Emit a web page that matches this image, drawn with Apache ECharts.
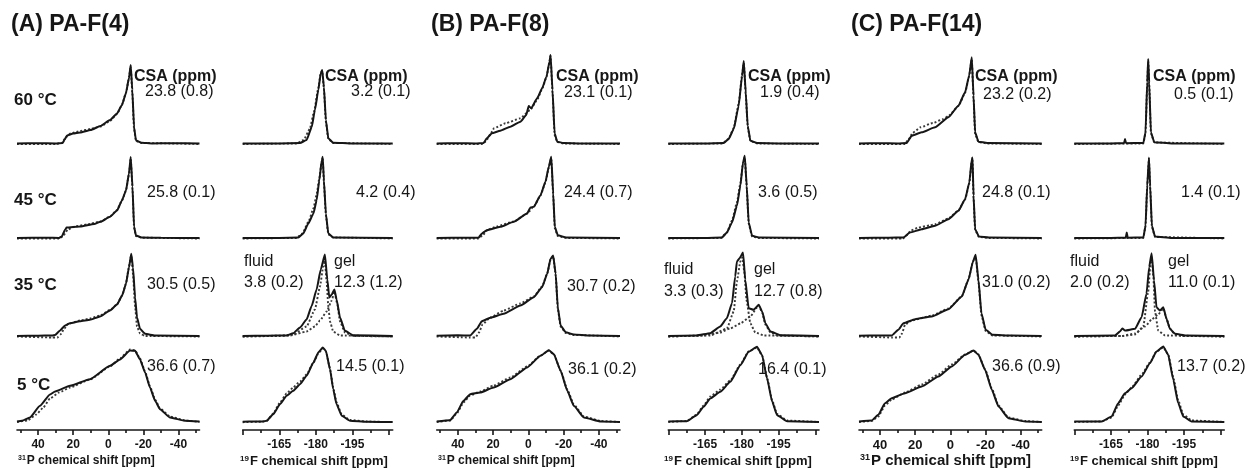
<!DOCTYPE html>
<html>
<head>
<meta charset="utf-8">
<script src="https://cdn.jsdelivr.net/npm/echarts@6/dist/echarts.min.js"></script>
<style>
html, body { margin: 0; padding: 0; background: #fff; }
#main { width: 1255px; height: 470px; }
</style>
</head>
<body>
<div id="main"></div>
<script>
// ---- axis ticks / labels ----
var p31Major = [40, 20, 0, -20, -40];
var p31Minor = [50, 30, 10, -10, -30, -50];
var f19Major = [-150, -165, -180, -195, -210];
var f19Minor = [-157.5, -172.5, -187.5, -202.5];
var f19Labels = [-165, -180, -195];

var panelTitles = ['(A) PA-F(4)', '(B) PA-F(8)', '(C) PA-F(14)'];
var temps = ['60 °C', '45 °C', '35 °C', '5 °C'];
var csaA31 = ['23.8 (0.8)', '25.8 (0.1)', '30.5 (0.5)', '36.6 (0.7)'];
var csaA19 = ['3.2 (0.1)', '4.2 (0.4)', '', '14.5 (0.1)'];
var csaB31 = ['23.1 (0.1)', '24.4 (0.7)', '30.7 (0.2)', '36.1 (0.2)'];
var csaB19 = ['1.9 (0.4)', '3.6 (0.5)', '', '16.4 (0.1)'];
var csaC31 = ['23.2 (0.2)', '24.8 (0.1)', '31.0 (0.2)', '36.6 (0.9)'];
var csaC19 = ['0.5 (0.1)', '1.4 (0.1)', '', '13.7 (0.2)'];
var csaFluid = ['3.8 (0.2)', '3.3 (0.3)', '2.0 (0.2)'];
var csaGel = ['12.3 (1.2)', '12.7 (0.8)', '11.0 (0.1)'];

// ---- spectra: [ppm, intensity] (solid = experiment, d = simulation) ----
// PA-F(4) 31P
var a31_60 = [[52,0.5],[40,0.8],[30,0.6],[26,1],[25,4],[23.5,8.5],[20,10.5],[16,11.5],[10,14],[4.5,18],[-1,24],[-5,30.5],[-7.8,39],[-10.1,51],[-11.8,66],[-12.8,79],[-13.7,54],[-14.7,17],[-15.8,3.5],[-19,1.2],[-25,0.6],[-35,0.8],[-52,0.5]];
var a31_60d = [[52,0],[30,0],[26.5,1],[24,7],[21.5,10.5],[16,13],[10,15],[4.5,17.5],[-1,23],[-5,30],[-7.8,39],[-10.1,51],[-11.8,66],[-12.8,78],[-13.7,52],[-14.7,15],[-15.8,3],[-19,1],[-52,0]];
var a31_45 = [[52,0.5],[35,0.8],[28,0.6],[26.5,2],[24.5,9],[23.7,11],[16,12],[8,14.5],[4.5,16.7],[-1,21.7],[-5,28],[-7.8,38],[-10.1,48],[-11.8,65],[-12.8,81.5],[-13.8,52],[-14.7,12],[-15.8,3],[-19,1],[-30,0.7],[-52,0.5]];
var a31_45d = [[52,0],[28,0],[26,2],[23,9],[19,12],[12,14],[4.5,17],[-1,22],[-5,28.5],[-7.8,38],[-10.1,48],[-11.8,64],[-12.8,80],[-13.8,50],[-14.7,11],[-15.8,2.5],[-19,0.8],[-52,0]];
var a31_35 = [[52,0.5],[40,0.8],[32,1],[30.3,1.5],[27.5,6],[24.6,11],[21.8,13.3],[16.1,15.3],[10.4,16.7],[4.7,20],[-1,26],[-5,32],[-7.9,41],[-10.1,52.7],[-11.8,69],[-13.1,82.7],[-14.1,69],[-15.3,39],[-16.4,19],[-18.1,7.7],[-21,2.7],[-26.7,1],[-52,0.5]];
var a31_35d = [[52,0],[32,-1],[29,-1],[27.2,2],[25,8],[23,12.5],[16.1,16],[10.4,18],[4.7,21],[-1,26.5],[-5,32],[-7.9,41],[-10.1,53],[-11.8,70],[-13.1,81],[-14.1,62],[-15.3,30],[-16.4,10],[-18.1,3],[-21,0.5],[-52,0]];
var a31_5 = [[52,1],[49.2,1.7],[44.6,5],[38.9,16.7],[33.2,28],[30.3,31],[21.8,36.7],[10.4,43.3],[-1,56.7],[-6.7,63],[-12.4,72],[-15.3,71.7],[-18.1,63],[-21,50],[-23.8,35],[-26.7,21.7],[-29.5,13.3],[-35.2,5],[-43.8,1.7],[-52,1]];
var a31_5d = [[52,0.5],[46,2],[41,8],[37,15],[33.2,24],[28,30],[21.8,35],[10.4,43],[-1,56],[-6.7,64],[-12.4,73],[-15.3,72],[-18.1,64],[-21,51],[-23.8,36],[-26.7,23],[-29.5,14],[-35.2,6],[-43.8,2],[-52,0.5]];
// PA-F(4) 19F
var a19_60 = [[-150,0.5],[-165,0.6],[-173.5,1],[-176.2,4],[-178.3,17],[-179.6,34],[-181,54],[-182,70.7],[-182.6,74],[-183.3,57],[-184.1,24],[-185.1,5.7],[-187.1,1.3],[-195,0.5],[-211.5,0.5]];
var a19_60d = [[-150,0],[-172,0.5],[-175,4],[-177.5,15],[-179.3,33],[-181,56],[-182,71],[-182.6,73],[-183.3,55],[-184.1,22],[-185.1,5],[-187.1,1],[-211.5,0]];
var a19_45 = [[-150,0.5],[-165,0.6],[-172.8,1],[-174.8,5],[-176.9,15],[-179,25],[-180.3,38],[-181.4,58],[-182.4,78],[-182.8,81.7],[-183.3,58],[-184.1,25],[-185.1,5],[-187.1,1],[-211.5,0.5]];
var a19_45d = [[-150,0],[-172,0.5],[-174.5,5],[-177,17],[-179,30],[-180.3,44],[-181.4,60],[-182.4,77],[-182.8,80],[-183.3,56],[-184.1,23],[-185.1,4],[-187.1,1],[-211.5,0]];
var a19_35 = [[-150,0.5],[-160,0.8],[-168,1],[-170.7,3.3],[-173.5,9],[-176.2,17],[-178.3,30.7],[-180.3,47],[-182,67],[-183.7,82],[-184.7,57],[-185.5,39],[-186.5,42],[-187.6,47],[-188.5,37],[-189.9,19],[-191.9,5.7],[-195.3,1.3],[-211.5,0.5]];
var a19_35f = [[-150,0],[-165,0.5],[-170.7,2],[-176.2,10],[-179.6,27],[-181.7,50],[-183,70],[-183.7,76],[-184.4,55],[-185.1,30],[-185.8,15],[-187.1,5],[-189.9,1],[-211.5,0]];
var a19_35g = [[-150,0],[-169.4,1],[-176.2,5],[-179.6,10],[-181.7,16],[-184.4,25],[-186.5,36],[-187.6,45],[-188.8,32],[-189.9,15],[-191.9,4],[-195.3,0.5],[-211.5,0]];
var a19_5 = [[-150,0.8],[-155,1],[-158.4,1],[-159.8,1.7],[-162.5,8.3],[-165.3,18.3],[-168,26.7],[-170.7,31.7],[-173.5,38.3],[-176.2,46.7],[-179,60],[-181,70],[-182.8,75],[-184.1,71.7],[-185.8,53.3],[-187.1,33.3],[-188.5,18.3],[-190.6,6.7],[-194,1.7],[-200.8,0.7],[-211.5,0.5]];
var a19_5d = [[-150,0.3],[-158,0.8],[-160,2],[-162.5,9],[-165.3,20],[-168,29],[-170.7,35],[-173.5,41],[-176.2,48],[-179,60],[-181,69],[-182.8,74],[-184.1,71],[-185.8,54],[-187.1,35],[-188.5,20],[-190.6,8],[-194,2.5],[-200.8,1],[-211.5,0.3]];
// PA-F(8) 31P
var b31_60 = [[52,0.5],[40,0.8],[30,0.6],[25.4,1],[23.6,5.7],[20.7,10.7],[15.9,13.3],[10.2,17.3],[4.5,22.3],[1.2,29],[-0.2,38],[-1.6,35.7],[-5,45.7],[-7.8,55.7],[-10.3,67.3],[-12,82.3],[-12.6,89],[-13.7,54],[-14.9,10.7],[-16.4,2.3],[-20,1],[-30,0.6],[-52,0.5]];
var b31_60d = [[52,0],[26,0],[24,3],[21.5,10],[19.5,15.7],[13,20.7],[4.5,25.7],[-1,34],[-5,44],[-7.8,55],[-10.3,67],[-12,82],[-12.6,88],[-13.7,52],[-14.9,9],[-16.4,2],[-20,0.5],[-52,0]];
var b31_45 = [[52,0.5],[35,0.8],[28.3,0.8],[26.4,5],[23.6,8.3],[15.9,11.7],[8.3,16.7],[0.7,25],[-1.2,31],[-3.1,31.7],[-6.9,43.3],[-9.7,56.7],[-11.6,71.7],[-13,81.7],[-14.1,45],[-15,11.7],[-16.7,3.3],[-21.5,1],[-52,0.5]];
var b31_45d = [[52,0],[28.5,0],[26,3],[23,9],[18,12],[8.3,17],[0.7,25],[-3.1,32],[-6.9,43],[-9.7,56],[-11.6,71],[-13,80],[-14.1,43],[-15,10],[-16.7,2.5],[-21.5,0.5],[-52,0]];
var b31_35 = [[52,0.8],[40,1.2],[33,1],[29.2,7.7],[26.4,15.3],[21.6,18.7],[14,22.7],[4.5,31],[-3.1,39.3],[-7.8,49.3],[-10.7,62.7],[-12.6,77.7],[-14.1,81],[-15.5,62.7],[-16.7,29.3],[-18.3,11],[-21.2,4.3],[-25.8,2],[-35,1],[-52,0.5]];
var b31_35d = [[52,0],[33,-1],[30,-1],[28,4],[26,12],[21.6,19],[14,26],[4.5,33],[-3.1,40],[-7.8,50],[-10.7,63],[-12.6,77],[-14.1,80],[-15.5,61],[-16.7,28],[-18.3,10],[-21.2,3.5],[-25.8,1.5],[-52,0]];
var b31_5 = [[52,1],[44.4,2.3],[40.6,10],[36.8,21.7],[33,28.3],[27.3,30],[19.7,35],[10.2,43.3],[0.7,55],[-6.9,66.7],[-11.6,72.3],[-14.5,68.3],[-18.3,51.7],[-22.1,31.7],[-25.8,16.7],[-31.5,5],[-41.1,1],[-52,0.5]];
var b31_5d = [[52,0.5],[44.4,2],[40.6,9],[36.8,20],[33,27],[27.3,31],[19.7,37],[10.2,45],[0.7,56],[-6.9,67],[-11.6,72],[-14.5,68],[-18.3,52],[-22.1,33],[-25.8,18],[-31.5,6],[-41.1,1.5],[-52,0.5]];
// PA-F(8) 19F
var b19_60 = [[-150,0.5],[-165,0.6],[-172.6,1],[-174.6,5],[-176.7,15],[-178.7,38],[-180.1,68],[-180.8,83],[-181.6,51.7],[-182.4,18.3],[-183.5,3.3],[-186.3,1],[-195,0.6],[-211.5,0.5]];
var b19_60d = [[-150,0],[-172,0.5],[-174.6,5],[-176.7,16],[-178.7,40],[-180.1,69],[-180.8,81],[-181.6,50],[-182.4,17],[-183.5,3],[-186.3,0.5],[-211.5,0]];
var b19_45 = [[-150,0.5],[-165,0.6],[-171.9,1],[-173.9,6],[-176,16],[-178,32.7],[-179.4,52.7],[-180.5,76],[-181.2,82.7],[-182,52.7],[-182.8,16],[-184.2,2.7],[-187,1],[-211.5,0.5]];
var b19_45d = [[-150,0],[-171.5,0.5],[-173.9,6],[-176,18],[-178,36],[-179.4,55],[-180.5,76],[-181.2,81],[-182,51],[-182.8,15],[-184.2,2],[-187,0.5],[-211.5,0]];
var b19_35 = [[-150,0.5],[-161.6,1],[-167.1,3.3],[-171.2,10],[-173.9,18.3],[-176,33.3],[-177.3,60],[-178,75],[-179.1,78.3],[-180.5,84],[-181.4,56.7],[-182.8,28.3],[-184.8,26.7],[-186.9,31.7],[-188.3,25],[-189.6,13.3],[-191.7,5],[-195.8,1.3],[-211.5,0.5]];
var b19_35f = [[-150,0],[-167.1,1],[-173.9,8],[-176.7,25],[-178,55],[-179.4,75],[-180.2,79],[-181,65],[-182,35],[-183.5,13],[-185.5,4],[-189,1],[-211.5,0]];
var b19_35g = [[-150,0],[-164.4,1],[-171.2,4],[-175.3,8],[-179.4,13],[-183.5,20],[-186.2,29],[-186.9,31],[-188.3,24],[-189.6,12],[-191.7,4],[-194.4,1],[-211.5,0]];
var b19_5 = [[-150,1],[-157.5,1.3],[-161.6,7.3],[-164.4,15.7],[-167.1,24],[-171.2,30.7],[-175.3,40.7],[-179.4,57.3],[-182.8,70.7],[-186.2,75.7],[-188.3,67.3],[-190.3,44],[-192.4,20.7],[-194.4,7.3],[-198.5,1.3],[-211.5,0.5]];
var b19_5d = [[-150,0.5],[-157.5,1.5],[-161.6,8],[-164.4,17],[-167.1,26],[-171.2,33],[-175.3,42],[-179.4,58],[-182.8,71],[-186.2,75],[-188.3,67],[-190.3,45],[-192.4,22],[-194.4,8.5],[-198.5,2],[-211.5,0.5]];
// PA-F(14) 31P
var c31_60 = [[52,0.5],[40,0.8],[30,0.6],[24.8,1],[22,8.3],[16.3,11.7],[8.7,16.7],[1.1,26.7],[-4.6,38.3],[-8.4,51.7],[-10.7,68.3],[-12.2,86.7],[-13.2,48],[-14.1,11.7],[-16,2.3],[-21,1],[-52,0.5]];
var c31_60d = [[52,0],[26,0],[24,4],[21.5,11],[17,16.7],[10,21],[4,25],[1.1,28],[-4.6,38],[-8.4,51],[-10.7,68],[-12.2,85],[-13.2,46],[-14.1,10],[-16,2],[-21,0.5],[-52,0]];
var c31_45 = [[52,0.5],[35,0.8],[26.7,1],[23,6],[16.3,9.3],[8.7,12.7],[1.1,19.3],[-4.6,27.7],[-8.4,39.3],[-10.8,56],[-12.2,79.3],[-12.6,81],[-13.2,42.7],[-14.1,9.3],[-16.3,2],[-22,1],[-52,0.5]];
var c31_45d = [[52,0],[27,0],[25,3],[22.5,8],[18,11],[12,13],[8.7,14.3],[1.1,20],[-4.6,28],[-8.4,39],[-10.8,55],[-12.2,78],[-12.6,80],[-13.2,41],[-14.1,8.5],[-16.3,1.5],[-22,0.5],[-52,0]];
var c31_35 = [[52,0.8],[40,1],[33.4,1],[29.6,6.7],[26.7,13.3],[20.1,17.3],[10.6,20],[1.1,27.3],[-6.5,40],[-10.3,56.7],[-12.9,75],[-14.4,81.7],[-16,56.7],[-17.7,23.3],[-20.1,6.7],[-24,1.7],[-35,1],[-52,0.5]];
var c31_35d = [[52,0],[33,-1],[29,-1],[27.5,3],[25.8,12],[22,16],[10.6,21],[1.1,28],[-6.5,40],[-10.3,57],[-12.9,75],[-14.4,80],[-16,54],[-17.7,21],[-20.1,5.5],[-24,1],[-52,0]];
var c31_5 = [[52,1],[44.8,2],[41,7.7],[37.2,19.3],[33.4,24.3],[25.8,29.3],[16.3,36],[6.8,46],[-0.8,56],[-8.4,67.7],[-13.2,72],[-16,67.7],[-19.8,52.7],[-23.6,32.7],[-27.4,16],[-33.1,4.3],[-42.6,1],[-52,0.5]];
var c31_5d = [[52,0.5],[44.8,1.5],[41,6],[37.2,17],[33.4,23],[25.8,30],[16.3,38],[6.8,48],[-0.8,58],[-8.4,68],[-13.2,72],[-16,68],[-19.8,53],[-23.6,34],[-27.4,17],[-33.1,5],[-42.6,1.5],[-52,0.5]];
// PA-F(14) 19F
var c19_60 = [[-150,0.5],[-165,0.6],[-170.4,0.8],[-170.8,5],[-171.2,0.8],[-178.3,1],[-179.2,11.7],[-179.9,61.7],[-180.3,85],[-180.7,61.7],[-181.4,11.7],[-182.8,1.7],[-190,0.6],[-211.5,0.5]];
var c19_60d = [[-150,0],[-178.3,0.5],[-179.2,11],[-179.9,60],[-180.3,83],[-180.7,60],[-181.4,11],[-182.8,1.5],[-211.5,0]];
var c19_45 = [[-150,0.5],[-165,0.6],[-171.1,0.8],[-171.5,6],[-171.9,0.8],[-178.3,1],[-179.2,12.7],[-179.9,52.7],[-180.6,81],[-181.1,52.7],[-181.8,12.7],[-183.1,2],[-190,0.6],[-211.5,0.5]];
var c19_45d = [[-150,0],[-178.3,0.5],[-179.2,12],[-179.9,52],[-180.6,79],[-181.1,52],[-181.8,12],[-183.1,1.5],[-211.5,0]];
var c19_35 = [[-150,0.5],[-166.7,1],[-168.7,5],[-169.7,8],[-170.8,6],[-174.9,7.7],[-177.6,19.3],[-179.6,42.7],[-180.7,69.3],[-181.7,83.3],[-182.7,56],[-183.7,29.3],[-185.1,26],[-186.5,29.3],[-187.8,17.7],[-189.2,7.7],[-191.3,2.7],[-196,1],[-211.5,0.5]];
var c19_35f = [[-150,0],[-170,0.5],[-174.9,2],[-178.3,10],[-180.3,45],[-181.3,75],[-181.7,80],[-182.4,60],[-183.1,25],[-184.4,6],[-187.2,1],[-211.5,0]];
var c19_35g = [[-150,0],[-169.4,0.5],[-174.9,3],[-179,10],[-181.7,17],[-184.4,22],[-186.5,28],[-187.8,18],[-189.2,8],[-191.3,2],[-194,0.5],[-211.5,0]];
var c19_5 = [[-150,1],[-161.2,1],[-165.3,6],[-168,19.3],[-170.8,29.3],[-173.5,34.3],[-177.6,46],[-181,59.3],[-183.7,71],[-186.5,76],[-188.5,67.7],[-190.6,42.7],[-192.6,19.3],[-194.7,6],[-198.1,1],[-211.5,0.5]];
var c19_5d = [[-150,0.5],[-161.2,1],[-165.3,5],[-168,17],[-170.8,28],[-173.5,35],[-177.6,48],[-181,60],[-183.7,71],[-186.5,75],[-188.5,68],[-190.6,45],[-192.6,22],[-194.7,8],[-198.1,2],[-211.5,0.5]];

var chart = echarts.init(document.getElementById('main'), null, { renderer: 'canvas' });

var FONT = '"Liberation Sans", Arial, sans-serif';
var INK = '#161616';
var baselines = [144, 238.5, 336.5, 422.5];

var p31Axis = { min: -52, max: 52, major: p31Major, minor: p31Minor, labels: p31Major, nuc: '31', el: 'P' };
var f19Axis = { min: -211.5, max: -150, major: f19Major, minor: f19Minor, labels: f19Labels, nuc: '19', el: 'F' };

// axis title: left x, font size
var panels = [
    { left: 17, width: 182.5, ax: p31Axis, title: [18, 12], solid: [a31_60, a31_45, a31_35, a31_5], dotted: [a31_60d, a31_45d, a31_35d, a31_5d] },
    { left: 242.7, width: 150, ax: f19Axis, title: [240, 13], solid: [a19_60, a19_45, a19_35, a19_5], dotted: [a19_60d, a19_45d, null, a19_5d], comps: [a19_35f, a19_35g] },
    { left: 436.7, width: 183.3, ax: p31Axis, title: [438, 12], solid: [b31_60, b31_45, b31_35, b31_5], dotted: [b31_60d, b31_45d, b31_35d, b31_5d] },
    { left: 668.3, width: 150.7, ax: f19Axis, title: [664, 13], solid: [b19_60, b19_45, b19_35, b19_5], dotted: [b19_60d, b19_45d, null, b19_5d], comps: [b19_35f, b19_35g] },
    { left: 859, width: 182.7, ax: p31Axis, title: [860, 15], solid: [c31_60, c31_45, c31_35, c31_5], dotted: [c31_60d, c31_45d, c31_35d, c31_5d] },
    { left: 1074.3, width: 150, ax: f19Axis, title: [1070, 13], solid: [c19_60, c19_45, c19_35, c19_5], dotted: [c19_60d, c19_45d, null, c19_5d], comps: [c19_35f, c19_35g] }
];

var grids = [], xAxes = [], yAxes = [], series = [], minorAxes = [];

panels.forEach(function (p, pi) {
    for (var r = 0; r < 4; r++) {
        var g = pi * 4 + r;
        var bottom = (r === 3);
        grids.push({ left: p.left, top: baselines[r] - 92.5, width: p.width, height: 100 });
        xAxes.push({
            gridIndex: g, type: 'value', min: p.ax.min, max: p.ax.max, inverse: true,
            position: 'bottom', show: bottom,
            axisLine: { show: true, onZero: false, lineStyle: { color: INK, width: 1.6 } },
            axisTick: { show: true, customValues: p.ax.major, length: 5, lineStyle: { color: INK, width: 1.6 } },
            axisLabel: { show: true, customValues: p.ax.labels, margin: 9, color: INK,
                         fontSize: pi === 4 ? 13 : 12, fontWeight: 'bold', fontFamily: FONT },
            splitLine: { show: false }
        });
        yAxes.push({ gridIndex: g, type: 'value', min: -7.5, max: 92.5, show: false, splitLine: { show: false } });

        var base = { type: 'line', xAxisIndex: g, yAxisIndex: g, showSymbol: false, symbol: 'none',
                     smooth: 0.15, smoothMonotone: 'x', silent: true, animation: false };
        if (p.dotted[r]) {
            series.push(Object.assign({}, base, { data: p.dotted[r], z: 2,
                lineStyle: { color: '#3a3a3a', width: 1.9, type: [2, 2] } }));
        }
        if (r === 2 && p.comps) {
            p.comps.forEach(function (c) {
                series.push(Object.assign({}, base, { data: c, z: 2,
                    lineStyle: { color: '#3a3a3a', width: 1.9, type: [2, 2] } }));
            });
        }
        series.push(Object.assign({}, base, { data: p.solid[r], z: 3,
            lineStyle: { color: INK, width: 2 } }));
    }
    // short ticks on the bottom axis
    minorAxes.push({
        gridIndex: pi * 4 + 3, type: 'value', min: p.ax.min, max: p.ax.max, inverse: true,
        position: 'bottom',
        axisLine: { show: false, onZero: false },
        axisTick: { show: true, customValues: p.ax.minor, length: 3, lineStyle: { color: INK, width: 1.6 } },
        axisLabel: { show: false },
        splitLine: { show: false }
    });
});

// text annotations
var graphics = [];
function txt(s, x, y, size, bold) {
    graphics.push({ type: 'text', x: x, y: y, silent: true,
        style: { text: s, fill: INK, font: (bold ? 'bold ' : '') + size + 'px ' + FONT, verticalAlign: 'middle', align: 'left' } });
}
txt(panelTitles[0], 11, 25, 23, true);
txt(panelTitles[1], 431, 25, 23, true);
txt(panelTitles[2], 851, 25, 23, true);

var tempY = [100, 200, 285, 385];
temps.forEach(function (t, i) { txt(t, i === 3 ? 17 : 14, tempY[i], 17, true); });

[134, 325, 556, 748, 975, 1153].forEach(function (x) { txt('CSA (ppm)', x, 77, 16, true); });

var valPos = [
    { vals: csaA31, xy: [[145, 92], [147, 193], [147, 285], [147, 367]] },
    { vals: csaA19, xy: [[351, 92], [356, 193], null, [336, 367]] },
    { vals: csaB31, xy: [[564, 93], [564, 193], [567, 287], [568, 370]] },
    { vals: csaB19, xy: [[760, 93], [758, 193], null, [758, 370]] },
    { vals: csaC31, xy: [[983, 95], [982, 193], [982, 283], [992, 367]] },
    { vals: csaC19, xy: [[1174, 95], [1181, 193], null, [1177, 367]] }
];
valPos.forEach(function (v) {
    v.vals.forEach(function (s, i) { if (s && v.xy[i]) txt(s, v.xy[i][0], v.xy[i][1], 16, false); });
});

var fgPos = [[244, 334, 262, 283], [664, 754, 270, 292], [1070, 1168, 262, 283]];
fgPos.forEach(function (f, i) {
    txt('fluid', f[0], f[2], 16, false);
    txt(csaFluid[i], f[0], f[3], 16, false);
    txt('gel', f[1], f[2], 16, false);
    txt(csaGel[i], f[1], f[3], 16, false);
});

// axis titles with superscript mass number
panels.forEach(function (p) {
    var fs = p.title[1];
    graphics.push({ type: 'text', x: p.title[0], y: 461, silent: true,
        style: {
            text: '{s|' + p.ax.nuc + '}{m|' + p.ax.el + ' chemical shift [ppm]}',
            verticalAlign: 'middle', align: 'left',
            rich: {
                s: { fill: INK, font: 'bold ' + Math.round(fs * 0.62) + 'px ' + FONT, verticalAlign: 'top', padding: [0, 1, Math.round(fs * 0.35), 0] },
                m: { fill: INK, font: 'bold ' + fs + 'px ' + FONT }
            }
        } });
});

chart.setOption({
    backgroundColor: '#fff',
    animation: false,
    grid: grids,
    xAxis: xAxes.concat(minorAxes),
    yAxis: yAxes,
    series: series,
    graphic: { elements: graphics }
});
</script>
</body>
</html>
